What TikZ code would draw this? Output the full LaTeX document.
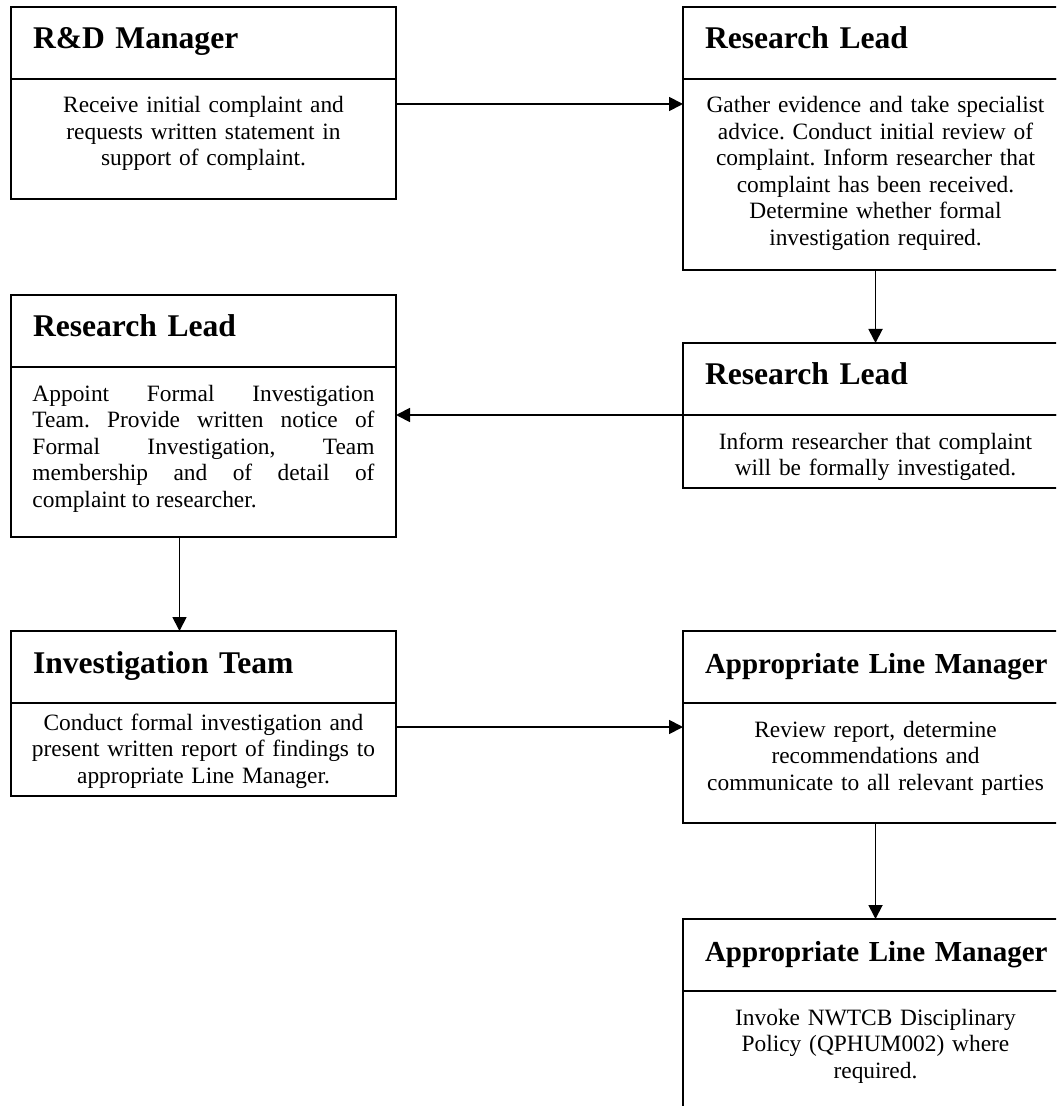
\documentclass[tikz,border=0pt]{standalone}
\usepackage{fontspec}
\setmainfont{Liberation Serif}
\usetikzlibrary{arrows.meta,positioning}
\frenchspacing

\begin{document}
\begin{tikzpicture}[
  x=0.5pt, y=-0.5pt,
  head/.style={draw, line width=1pt, outer sep=0pt, anchor=north west,
    minimum width=192.5pt, minimum height=36pt, text width=170.5pt,
    inner xsep=11pt, align=left, text height=11pt, text depth=5pt,
    font=\fontsize{15.8}{19}\selectfont\bfseries},
  widehead/.style={head, text width=185pt,
    font=\fontsize{14.5}{17}\selectfont\bfseries},
  body/.style={draw, line width=1pt, outer sep=0pt, anchor=north west,
    text width=190pt, inner xsep=1.25pt, inner ysep=8pt, text height=9pt,
    text depth=#1, align=center, font=\fontsize{11.7}{13.25}\selectfont},
  flow/.style={-{Triangle[length=7pt,width=7pt]}, line width=0.9pt}]

  \useasboundingbox (0,0) rectangle (1056,1106);
  \clip (0,0) rectangle (1056,1106);

  % left column
  \node[head] (rdHead) at (11,7) {R\&D Manager};
  \node[body=35pt] (rdText) at (rdHead.south west)
    {Receive initial complaint and\\requests written statement in\\support of complaint.};

  \node[head] (appointHead) at (11,295) {Research Lead};
  \node[body=60pt, text width=171pt, inner xsep=10.75pt, align=justify] (appointText) at (appointHead.south west)
    {Appoint Formal Investigation\linebreak Team. Provide written notice of\linebreak
     Formal Investigation, Team\linebreak membership and of detail of\linebreak
     complaint to researcher.};

  \node[head] (teamHead) at (11,631) {Investigation Team};
  \node[body=25pt, text height=5.5pt] (teamText) at (teamHead.south west)
    {Conduct formal investigation and\\present written report of findings to\\appropriate Line Manager.};

  % right column
  \node[head] (gatherHead) at (683,7) {Research Lead};
  \node[body=70.5pt] (gatherText) at (gatherHead.south west)
    {Gather evidence and take specialist\\advice. Conduct initial review of\\complaint. Inform researcher that\\complaint has been received.\\Determine whether formal\\investigation required.};

  \node[head] (informHead) at (683,343) {Research Lead};
  \node[body=11.5pt] (informText) at (informHead.south west)
    {Inform researcher that complaint\\will be formally investigated.};

  \node[widehead] (reviewHead) at (683,631) {Appropriate Line Manager};
  \node[body=35pt] (reviewText) at (reviewHead.south west)
    {Review report, determine\\recommendations and\\communicate to all relevant parties};

  \node[widehead] (invokeHead) at (683,919) {Appropriate Line Manager};
  \node[body=45pt] (invokeText) at (invokeHead.south west)
    {Invoke NWTCB Disciplinary\\Policy (QPHUM002) where\\required.};

  % connectors
  \coordinate (rdOut) at ([yshift=-12.5pt]rdText.north east);
  \draw[flow] (rdOut) -- (rdOut -| gatherText.west);
  \draw[flow] (gatherText.south) -- (informHead.south |- informHead.north);
  \draw[flow] (informHead.south west) -- (informHead.south west -| appointText.east);
  \coordinate (appointOut) at ([xshift=-12pt]appointText.south);
  \draw[flow] (appointOut) -- (appointOut |- teamHead.north);
  \coordinate (teamOut) at ([yshift=-12pt]teamText.north east);
  \draw[flow] (teamOut) -- (teamOut -| reviewText.west);
  \draw[flow] (reviewText.south) -- (reviewText.south |- invokeHead.north);
\end{tikzpicture}
\end{document}
